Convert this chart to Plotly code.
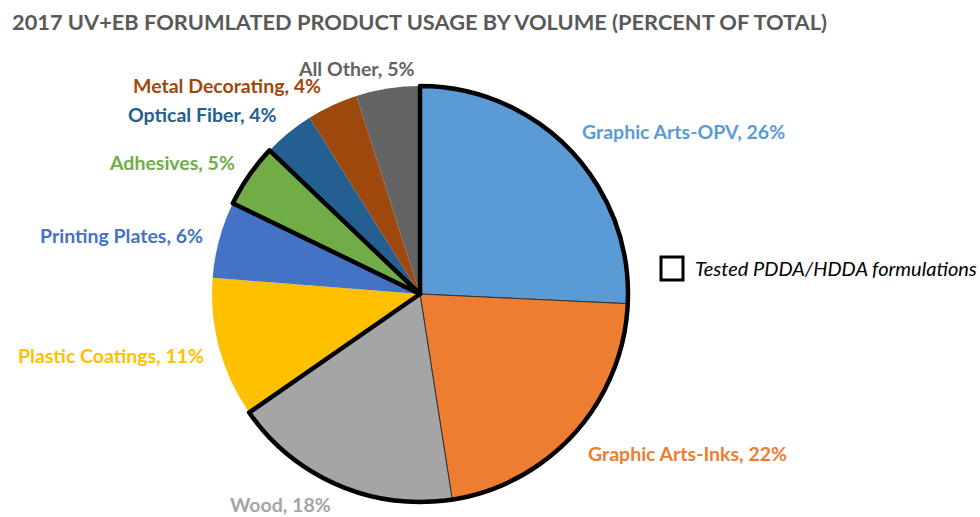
import plotly.graph_objects as go

# Share of formulated UV+EB product volume, clockwise from 12 o'clock
categories = [
    "Graphic Arts-OPV", "Graphic Arts-Inks", "Wood", "Plastic Coatings",
    "Printing Plates", "Adhesives", "Optical Fiber", "Metal Decorating", "All Other",
]
percent = [26, 22, 18, 11, 6, 5, 4, 4, 5]
tested = [True, True, True, False, False, True, False, False, False]

colors = ["#5B9BD5", "#ED7D31", "#A5A5A5", "#FFC000", "#4472C4",
          "#70AD47", "#255E91", "#9E480E", "#636363"]

W, H = 980, 517
CX, CY, R = 420, 294, 208

# label centres in pixels (x, y from top)
label_pos = [(683, 132), (687, 453), (280, 504), (111, 355), (121, 235),
             (172, 162), (202, 114), (227, 86), (356, 68)]

domain = dict(x=[(CX - R) / W, (CX + R) / W],
              y=[1 - (CY + R) / H, 1 - (CY - R) / H])

# fills, with hairlines only between the adjoining tested slices
base_lw = [1 if (i < 3) else 0 for i in range(len(percent))]
fig = go.Figure()
fig.add_trace(go.Pie(
    labels=categories, values=percent, sort=False, direction="clockwise",
    rotation=0, domain=domain, textinfo="none", hoverinfo="label+value",
    marker=dict(colors=colors, line=dict(color="#333333", width=base_lw)),
    showlegend=False,
))

# heavy outline around contiguous runs of tested slices
groups, gvals, gflag = [], [], []
for c, v, t in zip(categories, percent, tested):
    if groups and gflag[-1] == t:
        groups[-1] += " / " + c
        gvals[-1] += v
    else:
        groups.append(c)
        gvals.append(v)
        gflag.append(t)
fig.add_trace(go.Pie(
    labels=groups, values=gvals, sort=False, direction="clockwise",
    rotation=0, domain=domain, textinfo="none", hoverinfo="skip",
    marker=dict(colors=["rgba(0,0,0,0)"] * len(gvals),
                line=dict(color="black", width=[4.5 if f else 0 for f in gflag])),
    showlegend=False,
))

for (x, y), c, v, col in zip(label_pos, categories, percent, colors):
    fig.add_annotation(
        x=x / W, y=1 - y / H, xref="paper", yref="paper",
        text=f"<b>{c}, {v}%</b>", showarrow=False,
        xanchor="center", yanchor="middle",
        font=dict(family="Lato", size=19.5, color=col),
    )

# key for the outlined slices
fig.add_shape(type="rect", xref="paper", yref="paper",
              x0=661 / W, x1=683 / W, y0=1 - 280 / H, y1=1 - 257 / H,
              line=dict(color="black", width=3), fillcolor="white")
fig.add_annotation(
    x=693 / W, y=1 - 268 / H, xref="paper", yref="paper",
    text="<i>Tested PDDA/HDDA formulations</i>", showarrow=False,
    xanchor="left", yanchor="middle",
    font=dict(family="Lato", size=20, color="black"),
)

fig.add_annotation(
    x=10 / W, y=1 - 22 / H, xref="paper", yref="paper",
    text="<b>2017 UV+EB FORUMLATED PRODUCT USAGE BY VOLUME (PERCENT OF TOTAL)</b>",
    showarrow=False, xanchor="left", yanchor="middle",
    font=dict(family="Lato", size=21.8, color="#595959"),
)

fig.update_layout(
    width=W, height=H, margin=dict(l=0, r=0, t=0, b=0),
    paper_bgcolor="white", plot_bgcolor="white",
)

fig.write_html("out.html")
